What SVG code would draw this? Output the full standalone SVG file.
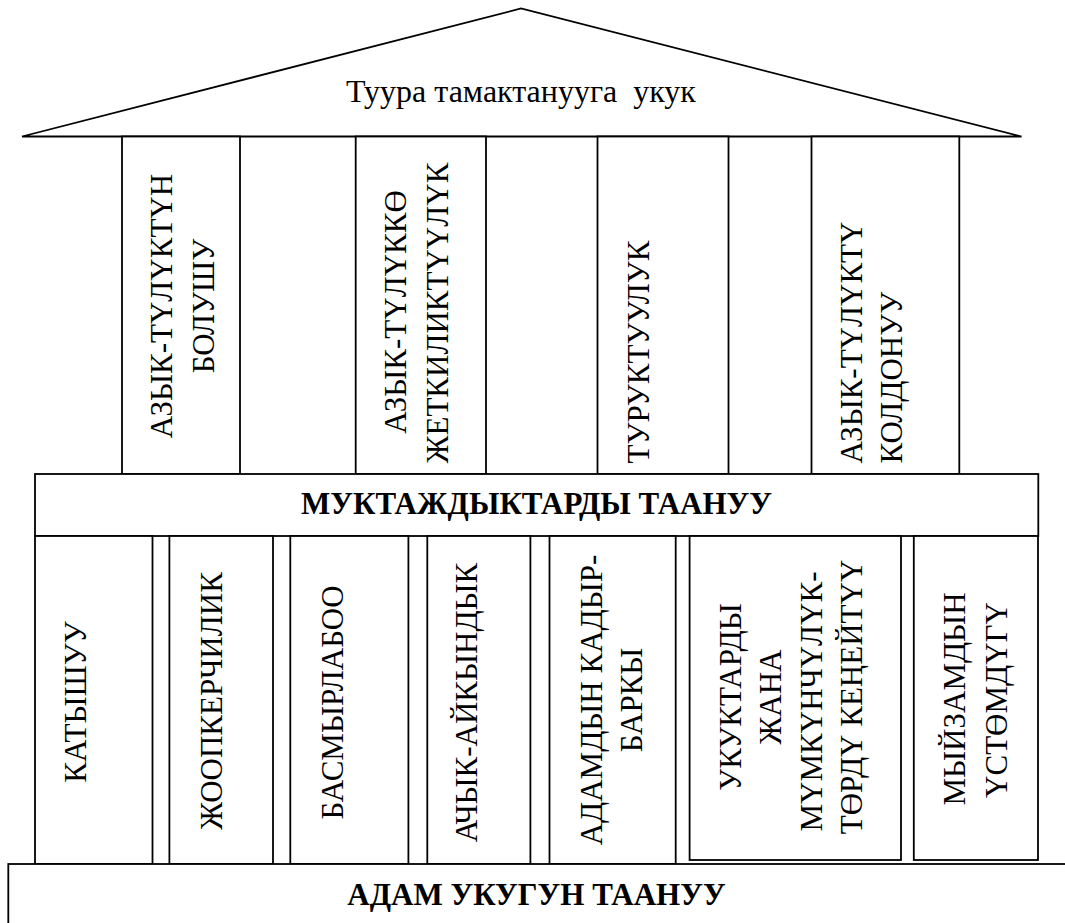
<svg xmlns="http://www.w3.org/2000/svg" xml:lang="ru" width="1065" height="923" viewBox="0 0 1065 923">
<rect width="1065" height="923" fill="#fff"/>

<g id="roof">
<polygon points="22,136.5 521,8.5 1021.5,136.5" fill="#fff" stroke="#000" stroke-width="1.8"/>
<text x="521" y="102" font-family="Times New Roman, Liberation Serif, serif" font-size="32" text-anchor="middle">Туура тамактанууга&#160; укук</text>
</g>

<g id="upper-columns" fill="#fff" stroke="#000" stroke-width="1.8">
<rect id="u1" x="122" y="136.5" width="118" height="337.5"/>
<rect id="u2" x="355.7" y="136.5" width="130.3" height="337.5"/>
<rect id="u3" x="597.5" y="136.5" width="131" height="337.5"/>
<rect id="u4" x="811.5" y="136.5" width="147.8" height="337.5"/>
</g>
<g id="upper-labels" fill="#000" font-family="Times New Roman, Liberation Serif, serif" font-size="31">
<text font-family="Times New Roman, Liberation Serif, serif" text-anchor="middle" transform="translate(172,306) rotate(-90)">АЗЫК-ТҮЛҮКТҮН</text>
<text font-family="Times New Roman, Liberation Serif, serif" text-anchor="middle" transform="translate(213.5,306) rotate(-90)">БОЛУШУ</text>
<text font-family="Times New Roman, Liberation Serif, serif" text-anchor="middle" transform="translate(406,312) rotate(-90)">АЗЫК-ТҮЛҮККӨ</text>
<text font-family="Times New Roman, Liberation Serif, serif" text-anchor="middle" transform="translate(447.5,313) rotate(-90)">ЖЕТКИЛИКТҮҮЛҮК</text>
<text font-family="Times New Roman, Liberation Serif, serif" text-anchor="start" transform="translate(648.5,463.5) rotate(-90)">ТУРУКТУУЛУК</text>
<text font-family="Times New Roman, Liberation Serif, serif" text-anchor="start" transform="translate(862,463.5) rotate(-90)">АЗЫК-ТҮЛҮКТҮ</text>
<text font-family="Times New Roman, Liberation Serif, serif" text-anchor="start" transform="translate(902,463.5) rotate(-90)">КОЛДОНУУ</text>
</g>

<g id="needs-bar">
<rect x="35" y="474" width="1003.3" height="62" fill="#fff" stroke="#000" stroke-width="1.8"/>
<text x="536.5" y="513.5" font-family="Times New Roman, Liberation Serif, serif" font-size="31" font-weight="bold" text-anchor="middle">МУКТАЖДЫКТАРДЫ ТААНУУ</text>
</g>

<g id="lower-columns" fill="#fff" stroke="#000" stroke-width="1.8">
<rect id="l1" x="35" y="536" width="117.5" height="328"/>
<rect id="l2" x="169.4" y="536" width="103.6" height="328"/>
<rect id="l3" x="290.3" y="536" width="118.1" height="328"/>
<rect id="l4" x="427.3" y="536" width="103.1" height="328"/>
<rect id="l5" x="549.5" y="536" width="126.2" height="328"/>
<rect id="l6" x="689.6" y="536" width="211.4" height="324"/>
<rect id="l7" x="913.8" y="536" width="124.2" height="324"/>
</g>
<g id="lower-labels" fill="#000" font-family="Times New Roman, Liberation Serif, serif" font-size="31" text-anchor="middle">
<text font-family="Times New Roman, Liberation Serif, serif" transform="translate(86,702) rotate(-90)">КАТЫШУУ</text>
<text font-family="Times New Roman, Liberation Serif, serif" transform="translate(222,701) rotate(-90)">ЖООПКЕРЧИЛИК</text>
<text font-family="Times New Roman, Liberation Serif, serif" transform="translate(342.5,702.5) rotate(-90)">БАСМЫРЛАБОО</text>
<text font-family="Times New Roman, Liberation Serif, serif" transform="translate(477,702.5) rotate(-90)">АЧЫК-АЙКЫНДЫК</text>
<text font-family="Times New Roman, Liberation Serif, serif" transform="translate(601.5,700) rotate(-90)">АДАМДЫН КАДЫР-</text>
<text font-family="Times New Roman, Liberation Serif, serif" transform="translate(641.5,700) rotate(-90)">БАРКЫ</text>
<text font-family="Times New Roman, Liberation Serif, serif" transform="translate(740.5,697) rotate(-90)">УКУКТАРДЫ</text>
<text font-family="Times New Roman, Liberation Serif, serif" transform="translate(780.5,697) rotate(-90)">ЖАНА</text>
<text font-family="Times New Roman, Liberation Serif, serif" transform="translate(822,701.5) rotate(-90)">МҮМКҮНЧҮЛҮК-</text>
<text font-family="Times New Roman, Liberation Serif, serif" transform="translate(862,697) rotate(-90)">ТӨРДҮ КЕҢЕЙТҮҮ</text>
<text font-family="Times New Roman, Liberation Serif, serif" transform="translate(965,699) rotate(-90)">МЫЙЗАМДЫН</text>
<text font-family="Times New Roman, Liberation Serif, serif" transform="translate(1006.5,700) rotate(-90)">ҮСТӨМДҮГҮ</text>
</g>

<g id="rights-bar">
<rect x="8.3" y="864" width="1070" height="80" fill="#fff" stroke="#000" stroke-width="1.8"/>
<text x="536.5" y="905" font-family="Times New Roman, Liberation Serif, serif" font-size="31" font-weight="bold" text-anchor="middle">АДАМ УКУГУН ТААНУУ</text>
</g>

<g id="connectors"></g>
</svg>
